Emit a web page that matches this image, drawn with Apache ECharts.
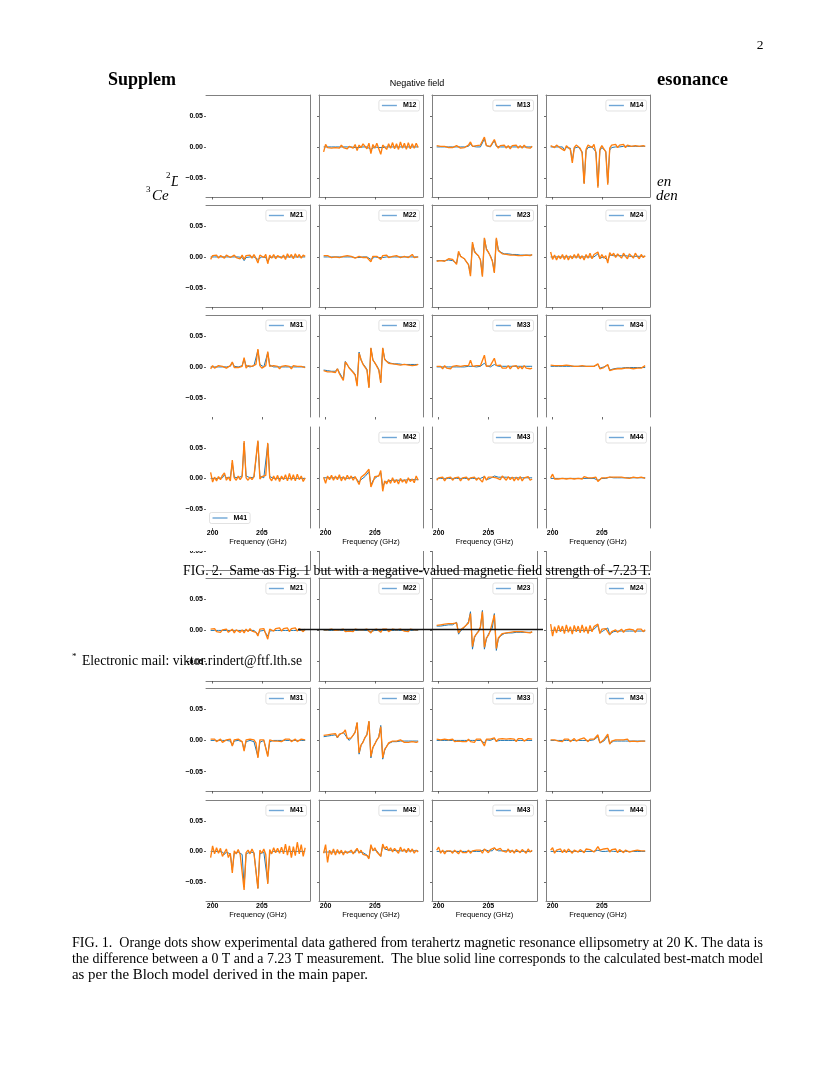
<!DOCTYPE html>
<html>
<head>
<meta charset="utf-8">
<script src="https://cdn.jsdelivr.net/npm/echarts@6/dist/echarts.min.js"></script>
<style>
html,body{margin:0;padding:0;background:#fff;}
#c{width:830px;height:1075px;}
</style>
</head>
<body>
<div id="c"></div>
<script>
// ---------- DATA ----------
const freq = [
 199.8,200.0,200.2,200.4,200.6,200.8,201.0,
 201.2,201.4,201.6,201.8,202.0,202.2,202.4,
 202.6,202.8,203.0,203.2,203.4,203.6,203.8,
 204.0,204.2,204.4,204.6,204.8,205.0,205.2,
 205.4,205.6,205.8,206.0,206.2,206.4,206.6,
 206.8,207.0,207.2,207.4,207.6,207.8,208.0,
 208.2,208.4,208.6,208.8,209.0,209.2,209.4
];
const xTicks = [200, 205];
const xTickLabels = ['200', '205'];
const yTicks = [-0.05, 0, 0.05];
const yTickLabels = ['\u22120.05', '0.00', '0.05'];

// ===== Negative field (FIG. 2) =====
const neg_M12_model = [
 0,0,0,0,0,0,0,
 -.001,0,0,0,-.001,0,0,
 0,0,-.001,-.004,-.001,0,0,
 0,0,-.001,-.004,-.001,0,0,
 -.001,-.004,-.001,0,0,0,0,
 0,0,0,0,0,0,0,
 0,0,0,0,0,0,0];
const neg_M12_data = [
 -.008,.004,-.001,.002,-.002,.001,-.001,
 .002,-.002,.003,-.001,.002,-.003,.001,
 .003,-.002,.004,-.006,.003,-.001,.005,
 .002,-.003,.006,-.011,.004,-.002,.006,
 .004,-.012,.003,.006,-.004,.005,-.002,
 .007,-.003,.005,-.004,.008,-.002,.006,
 -.004,.007,-.003,.005,-.002,.006,-.001];
const neg_M13_model = [
 0,0,0,0,0,0,0,
 0,0,0,0,.001,0,0,
 0,0,.001,.005,.001,0,0,
 0,0,.002,.013,.002,0,0,
 .001,.010,.001,0,0,0,0,
 0,0,0,0,0,0,0,
 0,0,0,0,0,0,0];
const neg_M13_data = [
 .002,-.001,.001,-.002,.001,0,-.001,
 .002,-.001,.001,.002,.003,-.002,.001,
 -.001,.002,.003,.008,.001,-.002,.002,
 -.001,.003,.004,.016,.002,-.001,.001,
 .003,.012,.003,-.002,.002,-.001,.003,
 -.002,.002,-.003,.002,-.001,.003,-.002,
 .002,-.002,.003,-.001,.002,-.002,.001];
const neg_M14_model = [
 0,0,0,0,0,0,0,
 -.005,-.001,0,-.002,-.022,-.002,0,
 0,-.001,-.008,-.058,-.006,-.001,0,
 0,-.001,-.008,-.063,-.006,-.001,0,
 -.007,-.058,-.005,-.001,0,0,0,
 0,0,.001,.001,.001,.001,.001,
 .001,.001,.001,.001,.001,.001,.001];
const neg_M14_data = [
 .002,.001,-.001,.003,.001,-.002,.001,
 -.006,.002,.003,-.004,-.026,-.001,.003,
 .002,-.002,-.010,-.060,-.004,.003,.002,
 -.001,.004,-.010,-.066,-.004,.002,.003,
 -.008,-.061,-.002,.003,.001,.004,-.001,
 .003,.001,.004,-.001,.003,.005,.001,
 .004,.002,.005,.001,.003,.002,.001];
const neg_M21_model = [
 0,0,0,0,0,0,0,
 0,0,0,0,-.001,0,0,
 0,0,-.001,-.006,-.001,0,0,
 0,0,-.001,-.004,-.001,0,0,
 -.001,-.008,-.001,0,0,0,0,
 0,0,0,0,0,0,0,
 0,0,0,0,0,0,0];
const neg_M21_data = [
 -.004,.002,-.001,.003,-.002,.002,.001,
 -.002,.003,.001,-.001,.002,.003,-.001,
 .002,-.003,.003,-.004,.002,-.001,.003,
 -.002,.004,-.002,-.010,.003,.005,-.001,
 .004,-.011,.003,-.002,.004,-.003,.002,
 .004,-.002,.003,-.004,.005,-.001,.004,
 -.003,.005,-.001,.004,-.002,.003,.001];
const neg_M22_model = [
 0,0,0,0,0,0,0,
 0,0,0,0,0,0,0,
 0,0,-.001,-.003,-.001,0,0,
 0,0,-.001,-.004,-.001,0,0,
 -.001,-.002,-.001,0,0,0,0,
 0,0,0,0,0,0,0,
 0,0,0,0,0,0,0];
const neg_M22_data = [
 .002,-.001,.002,.001,-.001,.001,0,
 .001,-.001,.002,.001,-.001,.002,-.001,
 .001,.002,-.002,-.005,.001,.002,-.001,
 .001,-.001,.002,-.008,.001,.002,.001,
 -.002,-.004,.002,.001,.003,-.001,.002,
 .001,-.002,.002,.003,-.001,.002,.001,
 .003,-.001,.002,.004,-.001,.002,0];
const neg_M23_model = [
 -.006,-.005,-.006,-.005,-.006,-.005,-.005,
 -.004,-.006,-.007,-.010,.007,.002,-.001,
 -.004,-.007,-.012,-.028,.022,.010,.005,
 .001,-.004,-.030,.030,.014,.007,.002,
 -.006,-.024,.029,.012,.008,.006,.005,
 .005,.005,.004,.004,.004,.004,.003,
 .003,.003,.003,.003,.003,.003,.003];
const neg_M23_data = [
 -.007,-.004,-.006,-.004,-.007,-.005,-.003,
 -.006,-.004,-.008,-.012,.009,.001,-.002,
 -.003,-.008,-.013,-.031,.024,.008,.006,
 .002,-.005,-.032,.031,.012,.008,.001,
 -.007,-.026,.031,.010,.009,.005,.006,
 .004,.006,.003,.005,.003,.005,.002,
 .004,.002,.005,.003,.004,.002,.004];
const neg_M24_model = [
 0,0,0,0,0,0,0,
 0,0,0,0,0,0,0,
 0,0,0,-.002,0,0,0,
 0,0,.001,.005,-.002,-.001,0,
 .001,-.006,.003,.003,.002,.002,.002,
 .002,.002,.002,.002,.001,.001,.001,
 .001,.001,.001,.001,.001,.001,.001];
const neg_M24_data = [
 .008,-.004,.003,-.005,.002,-.003,.004,
 -.004,.003,-.005,.002,-.003,.004,-.002,
 .005,-.003,.002,-.005,.004,-.002,.006,
 -.003,.004,.002,.008,-.003,.004,-.002,
 .002,-.010,.007,.002,.006,-.001,.005,
 .003,-.002,.006,.001,-.003,.005,.002,
 -.002,.006,.001,-.003,.004,-.001,.002];
const neg_M31_model = [
 0,0,0,0,0,0,0,
 .003,0,0,.001,.007,.001,0,
 0,.001,.002,.013,.002,.001,0,
 .001,.002,.005,.027,.004,.001,0,
 .003,.023,.003,.001,0,0,0,
 0,0,0,0,0,0,0,
 0,0,0,0,0,0,0];
const neg_M31_data = [
 -.003,.002,-.002,.001,.002,-.001,.001,
 .003,-.002,.001,.002,.008,-.001,.002,
 -.001,.002,.001,.015,-.002,.002,-.001,
 .001,.003,.004,.029,.002,-.002,.001,
 .002,.025,.001,-.002,.002,-.001,.001,
 -.003,.001,-.002,.002,-.001,.001,-.003,
 .002,-.001,.001,-.002,.001,.002,-.001];
const neg_M32_model = [
 -.005,-.005,-.006,-.006,-.007,-.007,-.007,
 -.003,-.009,-.012,-.020,.009,.003,-.001,
 -.004,-.008,-.012,-.028,.024,.011,.005,
 .001,-.004,-.032,.030,.012,.006,.002,
 -.004,-.024,.030,.013,.009,.007,.006,
 .006,.005,.005,.005,.004,.004,.004,
 .004,.004,.004,.004,.004,.004,.004];
const neg_M32_data = [
 -.006,-.004,-.008,-.005,-.008,-.006,-.009,
 -.003,-.011,-.013,-.022,.008,.004,-.002,
 -.003,-.009,-.013,-.031,.022,.012,.004,
 .002,-.005,-.034,.031,.011,.007,.001,
 -.005,-.026,.031,.012,.010,.006,.007,
 .005,.007,.004,.006,.003,.005,.004,
 .005,.003,.006,.002,.005,.003,.004];
const neg_M33_model = [
 0,0,0,0,0,0,0,
 0,0,0,0,0,0,0,
 0,0,.001,.004,.001,0,0,
 0,.001,.002,.006,.002,0,0,
 .001,.004,.001,.001,.001,.001,.001,
 .001,.001,.001,.001,.001,.001,.001,
 .001,.001,.001,.001,.001,.001,.001];
const neg_M33_data = [
 .001,-.002,.001,-.003,.002,-.002,0,
 -.003,.001,-.002,.002,-.001,.001,-.002,
 .002,-.001,.002,.011,.001,-.002,.002,
 -.001,.002,.003,.019,.001,-.002,.002,
 .003,.014,.002,-.001,.003,-.002,.001,
 -.002,.002,-.003,.001,-.002,.002,-.003,
 .001,-.003,.002,-.002,.001,-.003,-.002];
const neg_M34_model = [
 .001,.001,.001,.001,.001,.001,.001,
 .001,.001,.001,.001,.001,.001,.001,
 .001,.001,.001,.002,.001,.001,.001,
 .001,.001,.002,.004,-.002,-.001,0,
 .001,.003,-.005,-.004,-.003,-.003,-.002,
 -.002,-.002,-.002,-.001,-.001,-.001,-.001,
 -.001,-.001,-.001,-.001,-.001,-.001,-.001];
const neg_M34_data = [
 .003,.001,.002,-.001,.002,.001,.002,
 .001,.003,.001,.002,.002,.001,.003,
 .001,.002,.002,.003,.001,.002,.001,
 .002,.001,.003,.005,-.003,0,-.001,
 .002,.004,-.006,-.003,-.004,-.002,-.003,
 -.001,-.003,-.001,-.002,0,-.002,-.001,
 -.003,0,-.002,.001,-.002,-.001,.002];
const neg_M41_model = [
 0,0,0,0,0,0,.001,
 .006,.001,.001,.002,.025,.002,.001,
 .001,.002,.004,.058,.004,.001,.001,
 .001,.002,.005,.060,.004,.001,.001,
 .004,.056,.003,.001,0,0,0,
 0,0,0,0,0,0,0,
 0,0,0,0,0,0,0];
const neg_M41_data = [
 .010,-.006,.002,-.004,.003,-.002,.005,
 .009,-.003,.002,-.004,.030,.001,-.003,
 .004,-.002,.003,.061,.001,-.003,.002,
 -.002,.003,.006,.062,-.001,.003,.001,
 .005,.058,.001,-.004,.004,-.003,.005,
 -.005,.004,-.002,.006,-.004,.008,-.003,
 .006,-.004,.007,-.002,.004,-.005,.001];
const neg_M42_model = [
 .001,.001,.001,.001,.001,.001,.001,
 .001,.001,.001,.001,.002,0,.001,
 .001,.001,.002,.004,-.006,-.002,.001,
 .003,.006,.011,-.011,-.004,0,.003,
 .005,.009,-.013,-.007,-.005,-.004,-.004,
 -.003,-.003,-.003,-.003,-.003,-.003,-.003,
 -.003,-.002,-.002,-.002,-.002,-.002,-.002];
const neg_M42_data = [
 .002,-.008,.004,-.002,.005,-.003,.004,
 -.002,.006,-.004,.003,-.003,.005,-.001,
 .004,-.003,.003,.006,-.010,.002,.004,
 .007,.004,.015,-.014,-.006,.003,.006,
 .004,.013,-.021,-.004,-.009,-.002,-.008,
 .001,-.007,-.002,-.009,0,-.006,-.002,
 -.008,.001,-.005,-.001,-.007,.004,-.003];
const neg_M43_model = [
 0,0,0,0,0,0,0,
 0,0,0,0,0,0,0,
 0,0,0,.001,0,0,0,
 0,0,.001,.003,-.002,0,0,
 .001,.004,.003,.002,.002,.002,.002,
 .002,.002,.001,.001,.001,.001,.001,
 .001,.001,.001,.001,.001,.001,.001];
const neg_M43_data = [
 -.003,.001,-.002,.002,-.004,.001,-.002,
 .002,-.003,.001,-.002,.002,-.004,.001,
 -.002,.002,-.003,.001,-.002,.002,-.003,
 .001,-.002,-.006,.004,-.003,.002,-.001,
 .002,.005,.001,.003,-.002,.004,.001,
 -.003,.003,-.002,.002,-.004,.002,-.003,
 .003,-.004,.001,-.002,.003,-.003,-.001];
const neg_M44_model = [
 0,0,0,0,0,0,0,
 0,0,0,0,0,0,0,
 0,0,0,0,0,0,0,
 0,0,0,-.003,-.001,0,0,
 0,.002,.002,.001,.001,.001,.001,
 .001,.001,.001,.001,.001,.001,.001,
 .001,.001,.001,.001,.001,.001,.001];
const neg_M44_data = [
 .001,.007,-.001,.002,-.001,.001,0,
 .002,-.001,.001,0,.002,-.001,.001,
 0,.002,-.001,.003,0,.001,-.001,
 .001,0,.002,-.005,-.002,.001,0,
 .001,.003,.002,0,.002,.001,.002,
 0,.002,-.001,.001,.002,0,.001,
 .002,0,.001,-.001,.002,.001,0];

// ===== Positive field (FIG. 1) =====
const pos_M21_model = [
 0,0,0,0,0,0,0,
 0,0,0,0,0,0,0,
 0,0,0,-.002,0,0,0,
 0,0,-.001,-.006,-.001,0,0,
 -.001,-.009,-.001,0,0,0,0,
 0,0,0,0,0,0,0,
 0,0,0,0,0,0,0];
const pos_M21_data = [
 .002,-.001,.003,-.002,.001,-.003,.001,
 -.002,.002,-.003,-.001,.002,-.004,.001,
 .002,-.003,.001,-.004,.002,-.002,.003,
 -.001,.002,-.003,-.009,.002,-.001,.003,
 .001,-.014,.002,.004,-.001,.003,.001,
 .004,-.001,.003,.001,.004,-.002,.003,
 .001,.004,-.001,.003,.002,-.002,.002];
const pos_M22_model = [
 0,0,0,0,0,0,0,
 0,0,0,0,0,0,0,
 0,0,0,0,0,0,0,
 0,0,0,-.002,0,0,0,
 0,-.001,0,0,0,0,0,
 0,0,0,0,0,0,0,
 0,0,0,0,0,0,0];
const pos_M22_data = [
 .001,-.002,.001,-.001,.002,-.001,0,
 -.002,.001,-.001,.002,-.002,.001,-.001,
 .001,-.002,.002,-.001,.001,-.002,.001,
 -.001,.002,-.001,-.004,.001,-.002,.002,
 -.001,-.003,.002,-.001,.002,-.002,.001,
 .002,-.001,.001,-.002,.002,0,-.001,
 .001,-.002,.002,0,.001,-.001,.001];
const pos_M23_model = [
 .007,.007,.007,.008,.008,.008,.009,
 .010,.009,.010,.013,-.006,-.001,.002,
 .005,.008,.014,.030,-.030,-.012,-.005,
 -.001,.004,.032,-.030,-.014,-.006,-.001,
 .004,.027,-.032,-.014,-.009,-.006,-.005,
 -.005,-.004,-.004,-.004,-.003,-.003,-.003,
 -.003,-.003,-.003,-.003,-.003,-.003,-.003];
const pos_M23_data = [
 .008,.006,.009,.007,.010,.008,.011,
 .009,.011,.008,.012,-.004,.001,.001,
 .006,.007,.012,.027,-.026,-.010,-.006,
 -.002,.006,.030,-.027,-.012,-.008,0,
 .003,.025,-.029,-.012,-.010,-.005,-.007,
 -.004,-.006,-.003,-.005,-.002,-.004,-.002,
 -.004,-.002,-.005,-.003,-.002,-.004,-.002];
const pos_M24_model = [
 0,0,0,0,0,0,0,
 0,0,0,0,0,0,0,
 0,0,0,.001,0,0,0,
 .001,.002,.004,.008,-.004,-.002,0,
 .002,.004,-.006,-.003,-.002,-.002,-.001,
 -.001,-.001,-.001,-.001,-.001,-.001,-.001,
 -.001,-.001,-.001,-.001,-.001,-.001,-.001];
const pos_M24_data = [
 .010,-.009,.006,-.004,.008,-.002,.007,
 -.005,.009,-.003,.006,-.006,.008,-.002,
 .007,-.004,.009,-.003,.006,-.005,.008,
 -.002,.006,.003,.010,-.005,.002,-.001,
 .003,.005,-.007,-.002,-.004,.001,-.003,
 -.001,.002,-.003,.001,-.002,.002,-.001,
 .001,-.003,.002,-.001,.002,-.002,.001];
const pos_M31_model = [
 0,0,0,0,0,0,0,
 -.003,0,0,-.001,-.008,-.001,0,
 0,-.001,-.002,-.015,-.002,-.001,0,
 -.001,-.002,-.004,-.026,-.003,-.001,0,
 -.003,-.024,-.002,0,0,0,0,
 0,0,0,0,0,0,0,
 0,0,0,0,0,0,0];
const pos_M31_data = [
 .002,-.001,.002,-.002,.001,.002,-.003,
 -.004,.001,-.001,.002,-.009,.001,-.002,
 .002,-.001,-.002,-.017,.001,-.001,.002,
 -.001,.001,-.004,-.028,.001,-.002,.001,
 -.002,-.026,.001,.002,-.001,.002,-.001,
 .002,-.002,.001,.002,-.001,.002,-.002,
 .001,.002,-.002,.001,.002,-.001,.001];
const pos_M32_model = [
 .006,.007,.007,.008,.008,.009,.009,
 .004,.009,.011,.013,.016,.004,0,
 .003,.008,.014,.028,-.022,-.008,-.002,
 .004,.010,.030,-.028,-.012,-.005,0,
 .006,.024,-.030,-.016,-.009,-.005,-.003,
 -.002,-.002,-.002,-.001,-.001,-.001,-.001,
 -.001,-.001,-.001,-.001,-.001,-.001,-.001];
const pos_M32_data = [
 .008,.006,.009,.007,.010,.008,.011,
 .005,.010,.012,.012,.017,.003,.001,
 .004,.007,.013,.029,-.020,-.007,-.003,
 .005,.009,.031,-.026,-.011,-.006,.001,
 .005,.022,-.028,-.014,-.010,-.004,-.005,
 -.001,-.003,-.001,-.004,.001,-.002,-.003,
 0,-.003,-.001,-.002,.001,-.003,-.002];
const pos_M33_model = [
 0,0,0,0,0,0,0,
 0,0,0,0,0,0,0,
 0,0,0,-.001,0,0,0,
 0,0,-.001,-.004,.001,0,0,
 .001,.003,-.001,0,0,0,0,
 0,0,0,0,0,0,0,
 0,0,0,0,0,0,0];
const pos_M33_data = [
 .002,-.001,.001,-.002,.002,-.001,.001,
 -.001,.002,-.002,.001,-.001,.002,-.002,
 .001,-.002,.002,-.002,.001,-.003,.002,
 -.001,.002,-.003,-.009,.002,-.001,.002,
 .001,.004,-.002,.002,-.001,.003,.001,
 .002,-.001,.003,.001,.002,-.002,.003,
 .001,.003,-.001,.002,.003,.001,.002];
const pos_M34_model = [
 0,0,0,0,0,0,0,
 0,0,0,0,0,0,0,
 0,0,0,.002,0,0,0,
 .001,.001,.002,.006,-.004,-.002,-.001,
 .001,.007,-.005,-.002,-.001,-.001,-.001,
 -.001,-.001,-.001,-.001,-.001,-.001,-.001,
 -.001,-.001,-.001,-.001,-.001,-.001,-.001];
const pos_M34_data = [
 .001,-.002,.001,.002,-.001,.001,-.002,
 .002,-.001,.002,-.002,.001,.003,-.001,
 .001,.002,-.001,.004,.001,-.002,.002,
 .001,.002,.003,.009,-.004,-.001,.001,
 .002,.010,-.006,-.001,-.002,.001,-.002,
 .001,-.002,.001,-.001,.002,-.002,.001,
 -.001,.002,-.002,.001,-.001,.001,-.001];
const pos_M41_model = [
 0,0,0,0,0,0,-.001,
 -.005,-.001,-.002,-.004,-.030,-.003,-.001,
 -.001,-.002,-.005,-.058,-.004,-.001,-.001,
 -.001,-.002,-.005,-.060,-.004,-.001,-.001,
 -.004,-.051,-.003,-.001,0,0,0,
 0,0,0,0,0,0,0,
 0,0,0,0,0,0,0];
const pos_M41_data = [
 -.010,.009,-.004,.006,-.003,.005,-.008,
 -.006,.004,-.010,-.003,-.035,.001,-.004,
 .003,-.005,-.003,-.063,-.002,.002,-.004,
 .004,-.003,-.006,-.061,.002,-.003,.004,
 -.005,-.053,.003,-.004,.006,-.002,.005,
 -.003,.007,-.004,.012,-.006,.009,-.010,
 .008,-.007,.015,-.004,.011,-.008,.006];
const pos_M42_model = [
 -.001,-.001,-.001,-.001,-.001,-.001,-.001,
 -.001,-.001,-.002,-.002,-.002,-.001,-.001,
 -.001,-.001,-.002,.004,-.001,-.002,-.002,
 -.004,-.006,-.010,.008,.003,.002,.001,
 -.002,-.008,.010,.004,.003,.002,.002,
 .002,.002,.001,.001,.001,.001,.001,
 .001,.001,.001,.001,.001,.001,.001];
const pos_M42_data = [
 -.003,.011,-.018,.002,-.005,.004,-.006,
 .003,-.004,.002,-.006,.001,-.003,-.005,
 .002,-.004,.001,.005,-.003,.002,-.005,
 -.002,-.007,-.012,.011,.001,.006,-.001,
 .001,-.008,.012,.004,.008,.001,.006,
 -.001,.005,.002,-.003,.007,0,.004,
 -.002,.005,-.001,.004,-.003,.002,-.001];
const pos_M43_model = [
 0,0,0,0,0,0,0,
 0,0,0,0,0,0,0,
 0,0,0,0,0,0,0,
 0,0,-.001,.003,.001,.001,.001,
 .001,.005,.002,.001,.001,.001,.001,
 .001,.001,.001,.001,0,0,0,
 0,0,0,0,0,0,0];
const pos_M43_data = [
 .002,.007,-.003,.002,-.004,.001,-.002,
 .001,-.003,.002,-.001,-.004,.002,-.002,
 .001,-.002,.002,-.003,.001,-.002,.002,
 -.001,.002,-.003,.004,.002,-.002,.003,
 .001,.006,.002,.003,.005,.001,.003,
 -.001,.004,-.002,.002,-.003,.003,.001,
 -.002,.003,.001,-.003,.004,-.001,.002];
const pos_M44_model = [
 0,0,0,0,0,0,0,
 0,0,0,0,0,0,0,
 0,0,0,0,0,0,0,
 0,0,0,.002,.001,0,0,
 0,.002,.001,.001,0,0,0,
 0,0,0,0,0,0,0,
 0,0,0,0,0,0,0];
const pos_M44_data = [
 .002,.006,-.003,.002,-.001,.004,-.002,
 .003,-.002,.004,.001,-.003,.002,.005,
 -.001,.003,.006,-.002,.004,.001,.003,
 .006,-.001,.003,.008,.002,-.001,.004,
 .002,.005,-.001,.003,.001,.004,-.002,
 .003,.001,-.002,.002,.001,-.001,.002,
 .001,-.001,.002,0,.001,-.001,.001];

const negPanels = {
 M12:[neg_M12_model,neg_M12_data], M13:[neg_M13_model,neg_M13_data], M14:[neg_M14_model,neg_M14_data],
 M21:[neg_M21_model,neg_M21_data], M22:[neg_M22_model,neg_M22_data], M23:[neg_M23_model,neg_M23_data], M24:[neg_M24_model,neg_M24_data],
 M31:[neg_M31_model,neg_M31_data], M32:[neg_M32_model,neg_M32_data], M33:[neg_M33_model,neg_M33_data], M34:[neg_M34_model,neg_M34_data],
 M41:[neg_M41_model,neg_M41_data], M42:[neg_M42_model,neg_M42_data], M43:[neg_M43_model,neg_M43_data], M44:[neg_M44_model,neg_M44_data]
};
const posPanels = {
 M21:[pos_M21_model,pos_M21_data], M22:[pos_M22_model,pos_M22_data], M23:[pos_M23_model,pos_M23_data], M24:[pos_M24_model,pos_M24_data],
 M31:[pos_M31_model,pos_M31_data], M32:[pos_M32_model,pos_M32_data], M33:[pos_M33_model,pos_M33_data], M34:[pos_M34_model,pos_M34_data],
 M41:[pos_M41_model,pos_M41_data], M42:[pos_M42_model,pos_M42_data], M43:[pos_M43_model,pos_M43_data], M44:[pos_M44_model,pos_M44_data]
};

// ---------- LAYOUT / STYLE ----------
const W = 830;
const xMin = 199.33, xMax = 209.89, yMin = -0.081, yMax = 0.084;
const cols = [{l:206,w:104},{l:319,w:104},{l:432,w:105},{l:546,w:104}];
const negRows = [{t:95,h:102},{t:205,h:102},{t:315,h:102},{t:427,h:101}];
const posRows = [{t:468,h:102},{t:578,h:103},{t:688,h:103},{t:800,h:101}];
const SPINE = '#808080';
const SANS = '"Liberation Sans", Arial, sans-serif';
const SERIF = '"Liberation Serif", "Times New Roman", serif';
const BLUE = '#1f77b4', ORANGE = '#ff7f0e';

const grids = [], xAxes = [], yAxes = [], series = [], legends = [];

function yLab(v){
  for (let i=0;i<yTicks.length;i++) if (Math.abs(yTicks[i]-v)<1e-9) return yTickLabels[i];
  return '';
}
function xLab(v){
  for (let i=0;i<xTicks.length;i++) if (Math.abs(xTicks[i]-v)<1e-9) return xTickLabels[i];
  return '';
}

function addFigure(prefix, rows, panels, z, hideRule, legendPos){
  for (let r=0;r<4;r++){
    for (let c=0;c<4;c++){
      const g = grids.length;
      const col = cols[c], row = rows[r];
      grids.push({left:col.l, top:row.t, width:col.w, height:row.h, show:false, containLabel:false, outerBoundsMode:'none', z:z});
      const lastRow = r===3;
      const hide = hideRule(r);
      xAxes.push({
        gridIndex:g, type:'value', min:xMin, max:xMax, position:'bottom', z:z,
        axisLine:{show:!hide.bottom, onZero:false, lineStyle:{color:SPINE,width:1}},
        axisTick:{show:true, length:2.5, customValues:xTicks, lineStyle:{color:'#444',width:0.8}},
        axisLabel:{show:lastRow, customValues:xTicks, formatter:xLab, margin:2, fontSize:7, fontWeight:'bold', color:'#000', fontFamily:SANS},
        splitLine:{show:false},
        name: lastRow ? 'Frequency (GHz)' : '', nameLocation:'middle', nameGap:9,
        nameTextStyle:{fontSize:7.5, color:'#000', fontFamily:SANS}
      });
      xAxes.push({
        gridIndex:g, type:'value', min:xMin, max:xMax, position:'top', z:z,
        axisLine:{show:!hide.top, onZero:false, lineStyle:{color:SPINE,width:1}},
        axisTick:{show:false}, axisLabel:{show:false}, splitLine:{show:false}
      });
      yAxes.push({
        gridIndex:g, type:'value', min:yMin, max:yMax, position:'left', z:z,
        axisLine:{show:c>0, onZero:false, lineStyle:{color:SPINE,width:1}},
        axisTick:{show:true, length:2, customValues:yTicks, lineStyle:{color:'#444',width:0.8}},
        axisLabel:{show:c===0, customValues:yTicks, formatter:yLab, margin:3, fontSize:7, fontWeight:'bold', color:'#000', fontFamily:SANS},
        splitLine:{show:false}
      });
      yAxes.push({
        gridIndex:g, type:'value', min:yMin, max:yMax, position:'right', z:z,
        axisLine:{show:true, onZero:false, lineStyle:{color:SPINE,width:1}},
        axisTick:{show:false}, axisLabel:{show:false}, splitLine:{show:false}
      });
      const key = 'M'+(r+1)+(c+1);
      const p = panels[key];
      if (!p) continue;
      const name = prefix+'_'+key;
      series.push({
        name:name, type:'line', xAxisIndex:2*g, yAxisIndex:2*g, z:z+1,
        data:freq.map((f,i)=>[f,p[0][i]]), showSymbol:false, animation:false, silent:true,
        lineStyle:{color:BLUE,width:1}, itemStyle:{color:BLUE}
      });
      series.push({
        name:name+'_d', type:'line', xAxisIndex:2*g, yAxisIndex:2*g, z:z+2,
        data:freq.map((f,i)=>[f,p[1][i]]), showSymbol:false, animation:false, silent:true,
        lineStyle:{color:ORANGE,width:1.35}, itemStyle:{color:ORANGE}
      });
      const lp = legendPos(key, col, row);
      legends.push(Object.assign({
        data:[name], selectedMode:false, orient:'horizontal', z:z+5,
        icon:'rect', itemWidth:15, itemHeight:1.4, itemGap:0,
        padding:[2,3], backgroundColor:'rgba(255,255,255,0.85)',
        borderColor:'#d6d6d6', borderWidth:0.7, borderRadius:2,
        itemStyle:{color:'#6fa6d6'},
        textStyle:{fontSize:7, fontWeight:'bold', color:'#000', fontFamily:SANS, padding:[0,0,0,1]},
        formatter:n=>n.split('_')[1]
      }, lp));
    }
  }
}

function rightLegend(key,col,row){ return {right: W-(col.l+col.w)+3.5, top: row.t+5}; }

// Positive-field figure (drawn underneath)
addFigure('pos', posRows, posPanels, 2, r=>({top:false,bottom:false}), rightLegend);
// Negative-field figure (drawn on top of a white box)
addFigure('neg', negRows, negPanels, 20,
  r=>({top: r===3, bottom: r>=2}),
  (key,col,row)=> key==='M41' ? {left: col.l+3.5, top: row.t+row.h-15.5} : rightLegend(key,col,row));

const measureCtx = document.createElement('canvas').getContext('2d');
function txt(x,y,text,font,z,align,fitW){
  const el = {type:'text', x:x, y:y, z:z, silent:true,
    style:{text:text, font:font, fill:'#000', align:align||'left', verticalAlign:'middle'}};
  if (fitW){
    measureCtx.font = font;
    const w = measureCtx.measureText(text).width;
    if (w>0) el.scaleX = fitW / w;
  }
  return el;
}

const CAP = '14px '+SERIF;
const graphics = [
  // underlying page text (partly hidden by the figure box)
  txt(108,80,'Supplem','bold 18px '+SERIF,5,'left',68),
  txt(657,80,'esonance','bold 18px '+SERIF,5,'left',71),
  txt(166,176,'2','9px '+SERIF,5),
  txt(171,182,'Department','italic 14px '+SERIF,5),
  txt(146,190,'3','9px '+SERIF,5),
  txt(152,196,'Ce','italic 15px '+SERIF,5),
  txt(657,182,'en','italic 15px '+SERIF,5),
  txt(656,196,'den','italic 15px '+SERIF,5),
  // white figure box of FIG. 2
  {type:'rect', z:10, silent:true, shape:{x:178,y:68,width:478,height:483}, style:{fill:'#fff'}},
  // page number
  txt(760,45,'2','13.5px '+SERIF,30,'center'),
  // figure title
  txt(417,84,'Negative field','9px '+SANS,30,'center'),
  // FIG. 2 caption
  txt(417,571,'FIG. 2.  Same as Fig. 1 but with a negative-valued magnetic field strength of -7.23 T.',CAP,30,'center',468),
  // footnote
  txt(72,657,'*','9px '+SERIF,30),
  txt(82,661,'Electronic mail: viktor.rindert@ftf.lth.se',CAP,30,'left',220),
  // stray black line
  {type:'line', z:30, silent:true, shape:{x1:298,y1:629.5,x2:543,y2:629.5}, style:{stroke:'#111',lineWidth:1.6}},
  // FIG. 1 caption
  txt(72,943,'FIG. 1.  Orange dots show experimental data gathered from terahertz magnetic resonance ellipsometry at 20 K. The data is',CAP,30,'left',691),
  txt(72,959,'the difference between a 0 T and a 7.23 T measurement.  The blue solid line corresponds to the calculated best-match model',CAP,30,'left',691),
  txt(72,975,'as per the Bloch model derived in the main paper.',CAP,30,'left',296)
];

const chart = echarts.init(document.getElementById('c'), null, {renderer:'canvas', width:830, height:1075});
chart.setOption({
  backgroundColor:'#fff',
  animation:false,
  grid:grids, xAxis:xAxes, yAxis:yAxes, series:series, legend:legends,
  graphic:{elements:graphics}
});
</script>
</body>
</html>
